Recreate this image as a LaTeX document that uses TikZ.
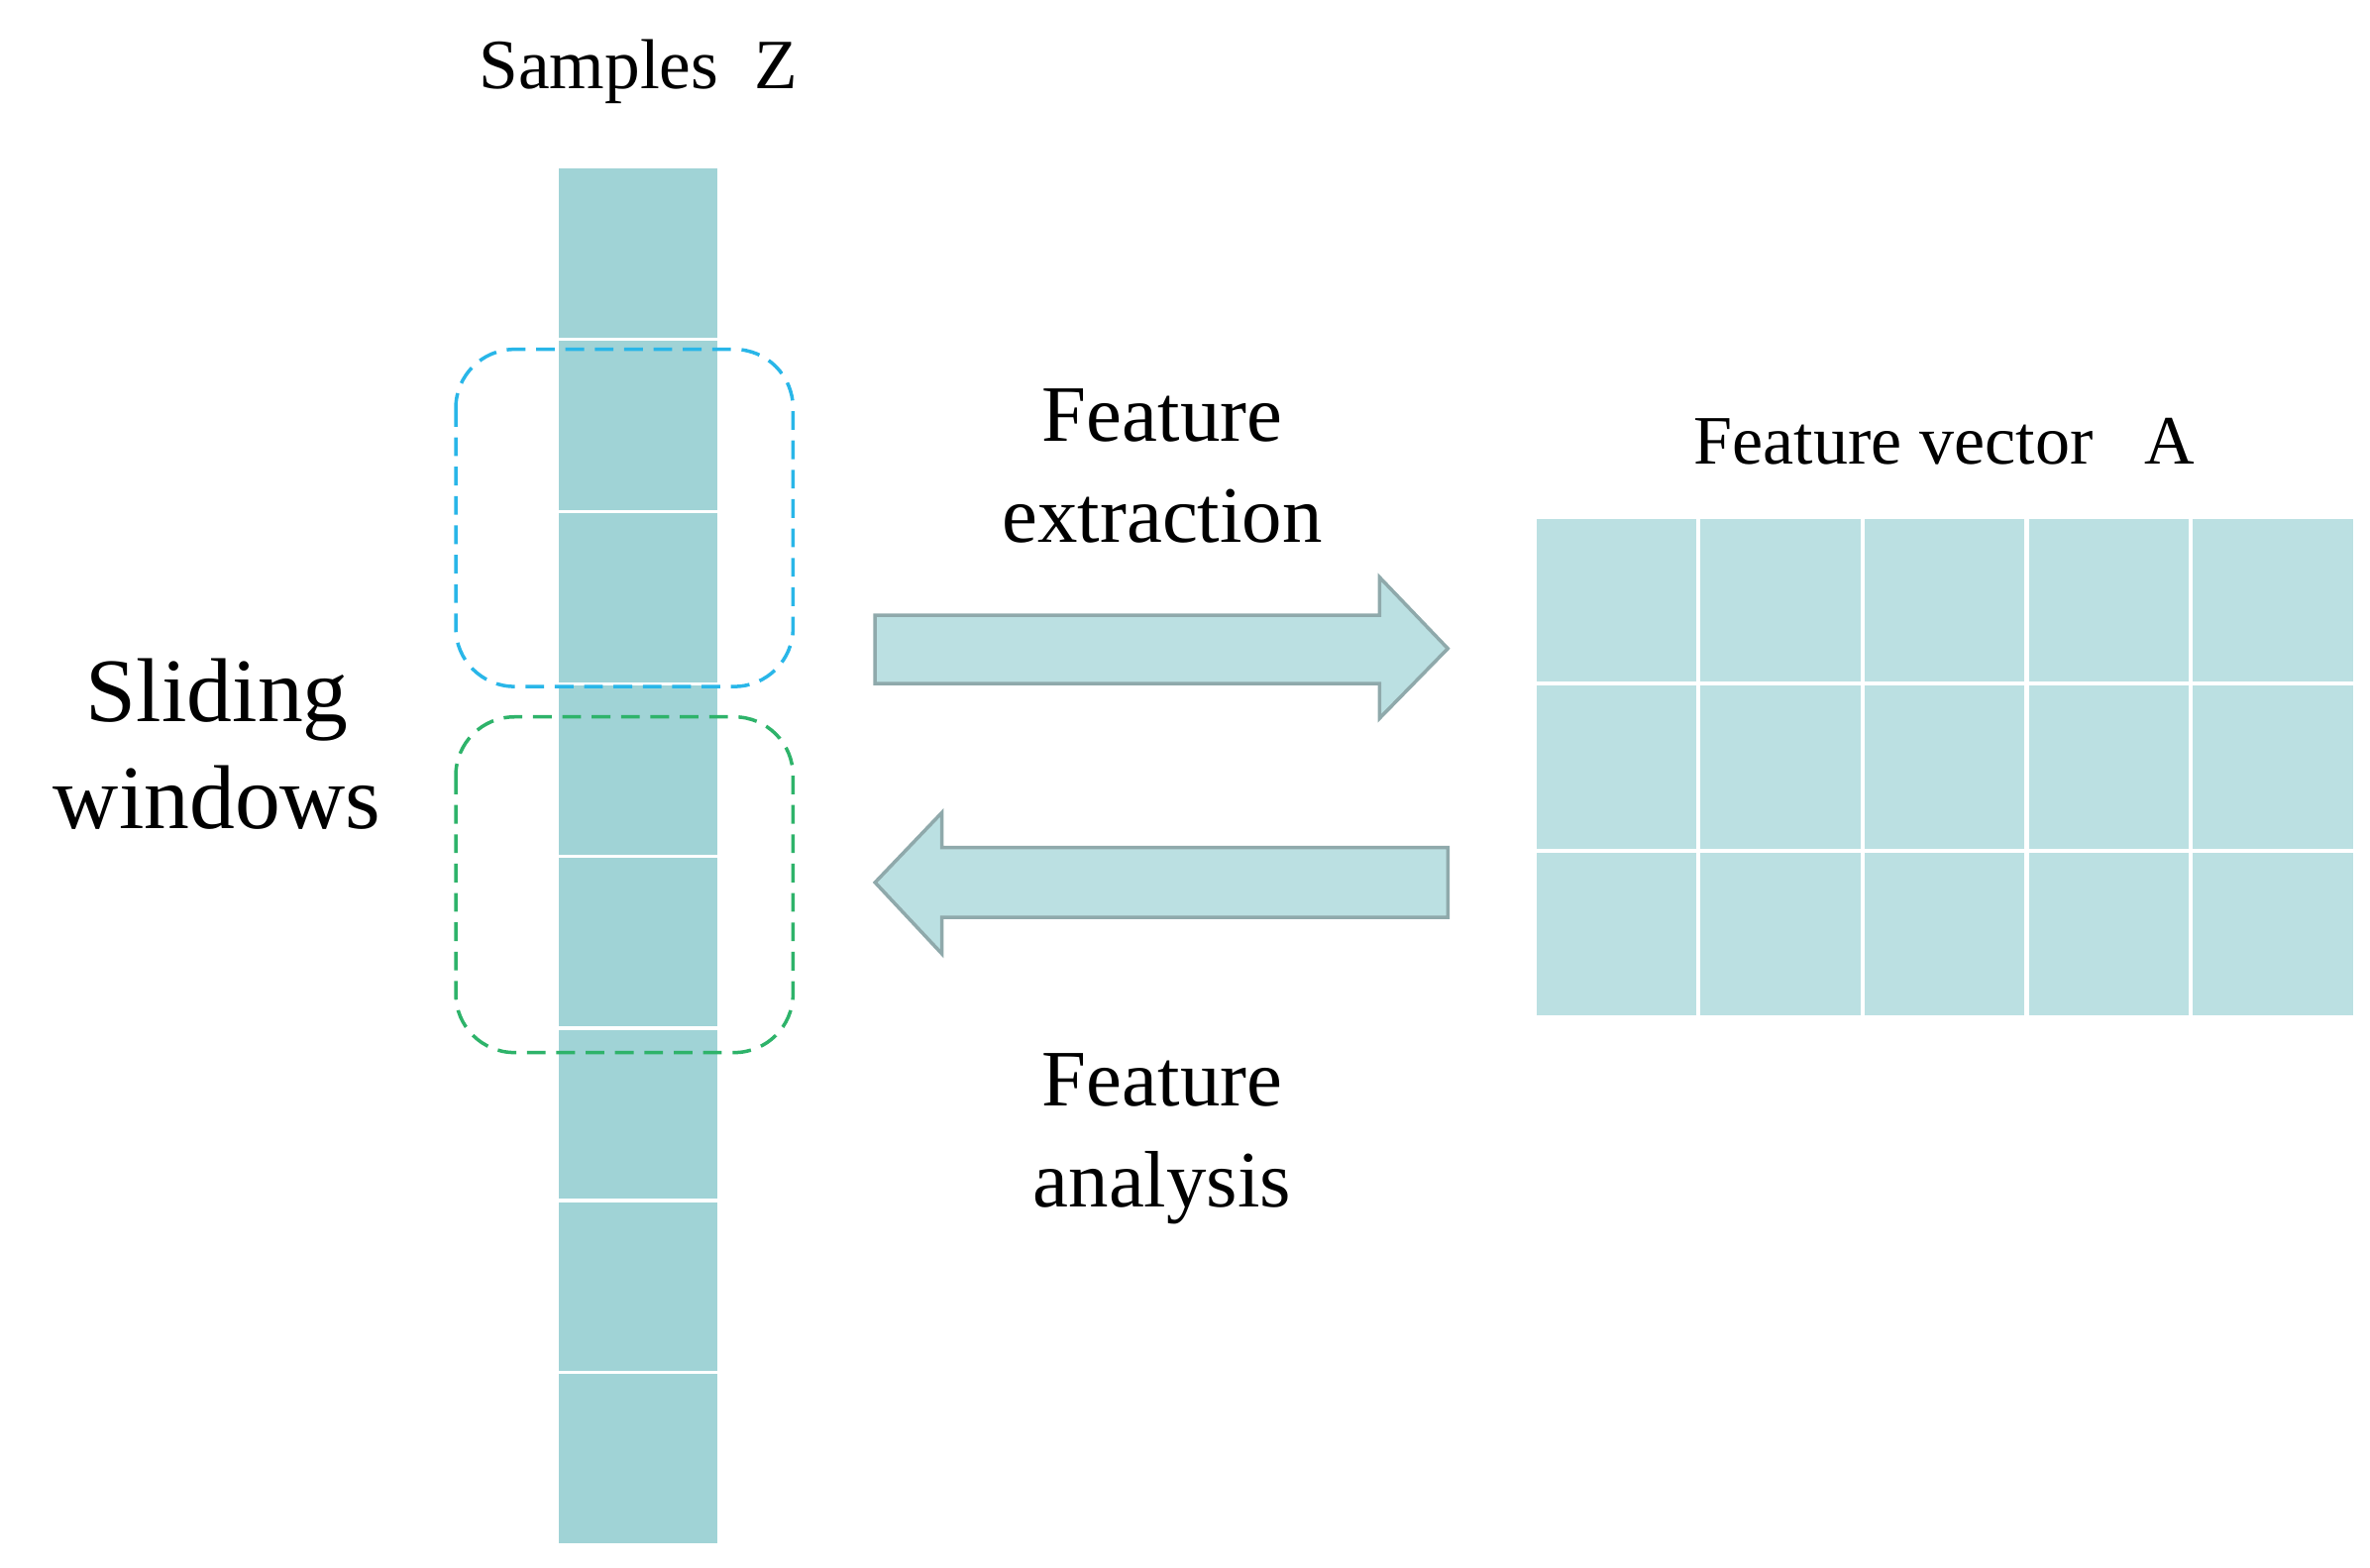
\documentclass[tikz,border=0pt]{standalone}
\usepackage{fontspec}
\setmainfont{Liberation Serif}
\begin{document}
\begin{tikzpicture}[x=0.02cm,y=-0.02cm,
  cellA/.style={fill=colA,draw=white,line width=1.2pt},
  cellB/.style={fill=colB,draw=white,line width=1.6pt},
  win/.style={dash pattern=on 7pt off 4pt,line width=1.3pt,rounded corners=22pt},
  arr/.style={fill=colB,draw=arrE,line width=1.3pt},
  lbl/.style={align=center,inner sep=0pt}]
\definecolor{colA}{HTML}{A0D3D6}
\definecolor{colB}{HTML}{BBE0E2}
\definecolor{arrE}{HTML}{8FA9AB}
\definecolor{blueW}{HTML}{29B6E8}
\definecolor{greenW}{HTML}{2EB36A}
\useasboundingbox (0,0) rectangle (1560,1032);
\foreach \i in {0,...,7}{
  \path[cellA] (367,{110+\i*113.4}) rectangle (473,{110+(\i+1)*113.4});
}
\foreach \r in {0,1,2}{\foreach \c in {0,...,4}{
  \path[cellB] ({1010+\c*108},{340+\r*110}) rectangle ({1010+(\c+1)*108},{340+(\r+1)*110});
}}
\draw[win,blueW] (300,230) rectangle (522,452);
\draw[win,greenW] (300,472) rectangle (522,693);
\draw[arr] (576,405) -- (908,405) -- (908,380) -- (953,427) -- (908,473) -- (908,450) -- (576,450) -- cycle;
\draw[arr] (953,558) -- (620,558) -- (620,535) -- (576,581) -- (620,628) -- (620,604) -- (953,604) -- cycle;
\node[lbl,font=\fontsize{26.5}{30}\selectfont] (samples) at (420,47) {Samples\enspace Z};
\node[lbl,font=\fontsize{26}{30}\selectfont] (fv) at (1280,291) {Feature vector\enspace\ A};
\node[lbl,font=\fontsize{34}{40}\selectfont] (slide) at (143,490) {Sliding\\windows};
\node[lbl,font=\fontsize{30}{38}\selectfont] (fe) at (765,307) {Feature\\extraction};
\node[lbl,font=\fontsize{30}{38}\selectfont] (fa) at (765,750) {Feature\\analysis};
\end{tikzpicture}
\end{document}
